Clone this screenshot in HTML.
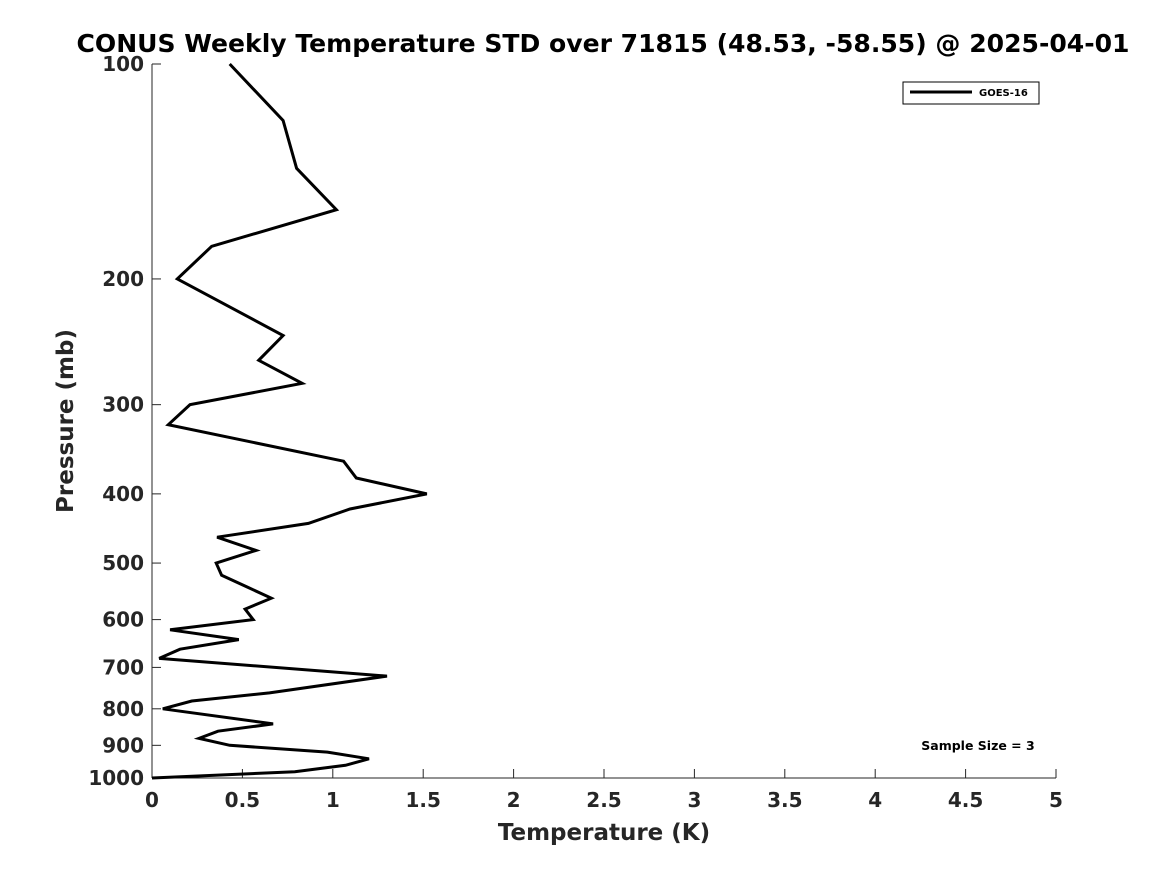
<!DOCTYPE html>
<html><head><meta charset="utf-8"><style>
html,body{margin:0;padding:0;background:#fff;}
svg{display:block;font-family:"DejaVu Sans","Liberation Sans",sans-serif;}
</style></head><body>
<svg id="chart" width="1167" height="875" viewBox="0 0 1167 875">
<text x="603" y="52" text-anchor="middle" font-size="25" font-weight="bold" fill="#000" textLength="1053" lengthAdjust="spacingAndGlyphs">CONUS Weekly Temperature STD over 71815 (48.53, -58.55) @ 2025-04-01</text>
<g id="axes"></g>
<path id="series" fill="none" stroke="#000" stroke-width="3" stroke-linejoin="miter"></path>
<g>
<rect x="903" y="82" width="136" height="22" fill="#fff" stroke="#000" stroke-width="1"></rect>
<line x1="910" y1="92" x2="972" y2="92" stroke="#000" stroke-width="3"></line>
<text x="979" y="96" font-size="10" font-weight="bold">GOES-16</text>
</g>
<text x="978" y="750" text-anchor="middle" font-size="12.5" font-weight="bold">Sample Size = 3</text>
<text x="604" y="840" text-anchor="middle" font-size="23" font-weight="bold" fill="#262626">Temperature (K)</text>
<text transform="translate(73,421) rotate(-90)" text-anchor="middle" font-size="23" font-weight="bold" fill="#262626">Pressure (mb)</text>
</svg>
<script>
const pressures = [100,120,140,160,180,200,240,260,280,300,320,360,380,400,420,440,460,480,500,520,540,560,580,600,620,640,660,680,720,760,780,800,840,860,880,900,920,940,960,980,1000];
const stdValues = [0.43,0.725,0.80,1.02,0.33,0.14,0.725,0.59,0.83,0.21,0.09,1.06,1.13,1.52,1.095,0.865,0.36,0.575,0.355,0.385,0.525,0.66,0.515,0.56,0.10,0.48,0.155,0.04,1.30,0.65,0.22,0.06,0.67,0.365,0.26,0.43,0.97,1.20,1.07,0.79,0.0];
const xTicks = [0,0.5,1,1.5,2,2.5,3,3.5,4,4.5,5];
const yTicks = [100,200,300,400,500,600,700,800,900,1000];

const X0=152,X1=1056,Y0=64,Y1=778;
function xs(v){return X0+(v-0)/(5-0)*(X1-X0);}
function ys(p){return Y0+(Math.log10(p)-2)*(Y1-Y0);}
const NS="http://www.w3.org/2000/svg";
const axes=document.getElementById('axes');
function mk(tag,attrs){const e=document.createElementNS(NS,tag);for(const k in attrs)e.setAttribute(k,attrs[k]);return e;}
const xl=mk('line',{x1:X0,y1:Y1,x2:X1,y2:Y1,stroke:'#262626','stroke-width':1});


axes.appendChild(xl);
const yl=mk('line',{x1:X0,y1:Y0,x2:X0,y2:Y1,stroke:'#262626','stroke-width':1});


axes.appendChild(yl);
xTicks.forEach(t=>{
  const x=xs(t);
  const tk=mk('line',{x1:x,y1:Y1,x2:x,y2:Y1-9,stroke:'#262626','stroke-width':1});
  
  
  axes.appendChild(tk);
  const tx=mk('text',{x:x,y:Y1+29,'text-anchor':'middle','font-size':20,'font-weight':'bold',fill:'#262626'});
  tx.textContent=String(t);
  
  
  axes.appendChild(tx);
});
yTicks.forEach(t=>{
  const y=ys(t);
  const tk=mk('line',{x1:X0,y1:y,x2:X0+9,y2:y,stroke:'#262626','stroke-width':1});
  
  
  axes.appendChild(tk);
  const tx=mk('text',{x:X0-8,y:y+7,'text-anchor':'end','font-size':20,'font-weight':'bold',fill:'#262626'});
  tx.textContent=String(t);
  
  
  axes.appendChild(tx);
});
document.getElementById('series').setAttribute('d',pressures.map((p,i)=>(i?'L':'M')+xs(stdValues[i]).toFixed(1)+','+ys(p).toFixed(1)).join(' '));
</script>
</body></html>
